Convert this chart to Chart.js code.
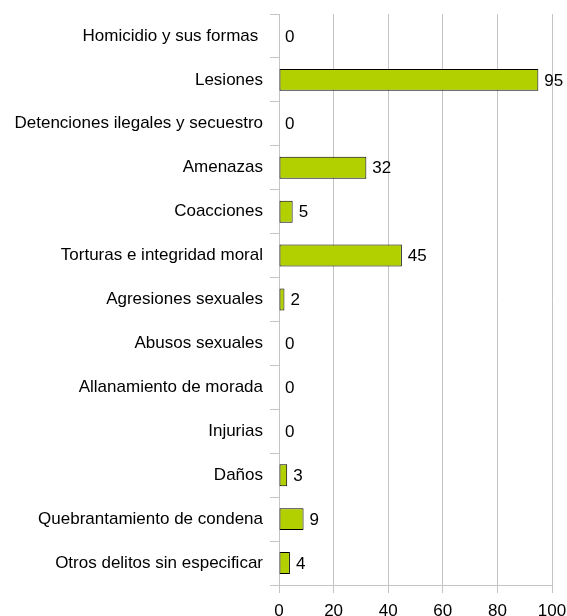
<!DOCTYPE html>
<html>
<head>
<meta charset="utf-8">
<script src="https://cdn.jsdelivr.net/npm/chart.js@4"></script>
<style>
  body { margin: 0; background: #fff; }
  #wrap { width: 567px; height: 616px; }
</style>
</head>
<body>
<div id="wrap"><canvas id="delitos"></canvas></div>
<script>
const categories = [
    'Homicidio y sus formas ',
    'Lesiones',
    'Detenciones ilegales y secuestro',
    'Amenazas',
    'Coacciones',
    'Torturas e integridad moral',
    'Agresiones sexuales',
    'Abusos sexuales',
    'Allanamiento de morada',
    'Injurias',
    'Daños',
    'Quebrantamiento de condena',
    'Otros delitos sin especificar'
];
const values = [0, 95, 0, 32, 5, 45, 2, 0, 0, 0, 3, 9, 4];
const xTicks = [0, 20, 40, 60, 80, 100];

const fontFamily = '"Liberation Sans", Arial, sans-serif';
const gridColor = '#c4c4c4';

// value labels at the end of each bar
const valueLabels = {
    id: 'valueLabels',
    afterDatasetsDraw(chart) {
        const ctx = chart.ctx;
        const meta = chart.getDatasetMeta(0);
        ctx.save();
        ctx.font = '17px ' + fontFamily;
        ctx.fillStyle = '#000';
        ctx.textAlign = 'left';
        ctx.textBaseline = 'middle';
        meta.data.forEach(function(bar, i) {
            ctx.fillText(String(values[i]), bar.x + 6, bar.y + 1);
        });
        ctx.restore();
    }
};

document.addEventListener("DOMContentLoaded", function() {
    const ctx = document.getElementById('delitos').getContext('2d');

    const data = {
        labels: categories,
        datasets: [{
            data: values,
            backgroundColor: '#b2d000',
            borderColor: '#000000',
            borderWidth: 1,
            borderSkipped: false,
            barPercentage: 0.5,
            categoryPercentage: 1
        }]
    };

    const options = {
        indexAxis: 'y',
        responsive: true,
        maintainAspectRatio: false,
        animation: false,
        layout: {
            padding: { top: 14, right: 15, left: 0, bottom: 0 }
        },
        scales: {
            x: {
                min: 0,
                max: 100,
                afterBuildTicks: function(scale) {
                    scale.ticks = xTicks.map(v => ({ value: v }));
                },
                afterFit: function(scale) {
                    scale.height = 31;
                    scale.paddingLeft = 0;
                    scale.paddingRight = 0;
                },
                grid: {
                    color: gridColor,
                    tickLength: 8
                },
                border: { color: gridColor },
                ticks: {
                    color: '#000',
                    padding: 8,
                    font: { family: fontFamily, size: 17 }
                }
            },
            y: {
                afterFit: function(scale) {
                    scale.width = 279;
                    scale.paddingTop = 0;
                    scale.paddingBottom = 0;
                },
                grid: {
                    offset: true,
                    drawOnChartArea: false,
                    color: gridColor,
                    tickLength: 9
                },
                border: { color: gridColor },
                ticks: {
                    color: '#000',
                    padding: 7,
                    autoSkip: false,
                    font: { family: fontFamily, size: 17 }
                }
            }
        },
        plugins: {
            legend: { display: false },
            tooltip: { enabled: false }
        }
    };

    new Chart(ctx, {
        type: 'bar',
        data: data,
        options: options,
        plugins: [valueLabels]
    });
});
</script>
</body>
</html>
